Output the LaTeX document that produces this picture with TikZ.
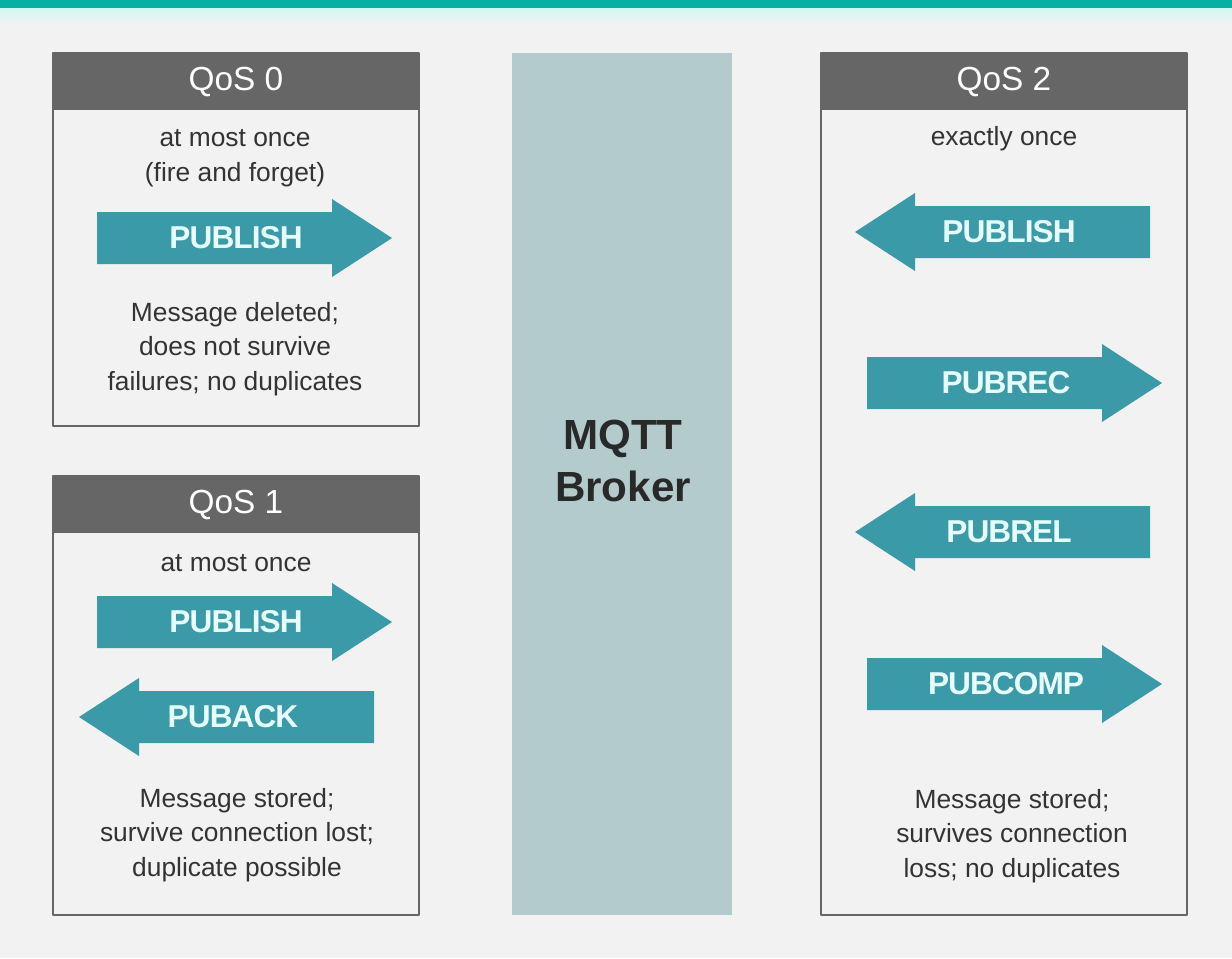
\documentclass[tikz,border=0pt]{standalone}
\usepackage{fontspec}
\setmainfont{Liberation Sans}
\definecolor{paper}{HTML}{F2F2F2}
\definecolor{barteal}{HTML}{06B0A3}
\definecolor{barlight}{HTML}{D2F6F4}
\definecolor{boxgray}{HTML}{666666}
\definecolor{broker}{HTML}{B3CBCC}
\definecolor{flowteal}{HTML}{3B9AA8}
\definecolor{flowtxt}{HTML}{E8FFFF}
\definecolor{ink}{HTML}{333333}
\begin{document}
\begin{tikzpicture}[x=0.02cm, y=-0.02cm, line join=round,
	box/.style={draw=boxgray, line width=1.2pt, fill=paper},
	title/.style={text=white, font=\fontsize{19}{22}\selectfont},
	note/.style={text=ink, align=center, font=\fontsize{15}{19.8}\selectfont},
	flowtext/.style={text=flowtxt, font=\bfseries\fontsize{18}{20}\selectfont\addfontfeature{LetterSpace=-3}}]
	% fond et bandeau
	\fill[paper] (0,0) rectangle (1232,958);
	\shade[top color=barlight, bottom color=paper] (0,8) rectangle (1232,24);
	\fill[barteal] (0,0) rectangle (1232,8);
	\useasboundingbox (0,0) rectangle (1232,958);
	% broker
	\fill[broker] (512,53) rectangle (732,915);
	\node[text=ink!80!black, align=center, font=\bfseries\fontsize{24}{29.5}\selectfont] (broker) at (623,461) {MQTT\\Broker};
	% cadres QoS
	\foreach \xl/\yt/\yb/\n in {53/53/426/0, 53/476/915/1, 821/53/915/2}{
		\draw[box] (\xl,\yt) rectangle (\xl+366,\yb);
		\fill[boxgray] (\xl,\yt) rectangle (\xl+366,\yt+57);
		\node[title] (qos\n) at (\xl+183,\yt+29) {QoS \n};
	}
	% fleches vers la droite
	\foreach \xa/\y/\txt/\nm in {97/238/PUBLISH/pubA, 97/622/PUBLISH/pubB, 867/383/PUBREC/pubrec, 867/684/PUBCOMP/pubcomp}{
		\fill[flowteal] (\xa,\y-26) -- (\xa+235,\y-26) -- (\xa+235,\y-39) -- (\xa+295,\y)
			-- (\xa+235,\y+39) -- (\xa+235,\y+26) -- (\xa,\y+26) -- cycle;
		\node[flowtext] (\nm) at (\xa+139,\y) {\txt};
	}
	% fleches vers la gauche
	\foreach \xt/\y/\txt/\nm in {79/717/PUBACK/puback, 855/232/PUBLISH/pubC, 855/532/PUBREL/pubrel}{
		\fill[flowteal] (\xt,\y) -- (\xt+60,\y-39) -- (\xt+60,\y-26) -- (\xt+295,\y-26)
			-- (\xt+295,\y+26) -- (\xt+60,\y+26) -- (\xt+60,\y+39) -- cycle;
		\node[flowtext] (\nm) at (\xt+154,\y) {\txt};
	}
	% textes
	\node[note] (noteA) at (235,158) {at most once\\(fire and forget)};
	\node[note] (memoA) at (235,349) {Message deleted;\\does not survive\\failures; no duplicates};
	\node[note] (noteB) at (236,563) {at most once};
	\node[note] (memoB) at (237,835) {Message stored;\\survive connection lost;\\duplicate possible};
	\node[note] (noteC) at (1004,139) {exactly once};
	\node[note] (memoC) at (1012,836) {Message stored;\\survives connection\\loss; no duplicates};
\end{tikzpicture}
\end{document}
